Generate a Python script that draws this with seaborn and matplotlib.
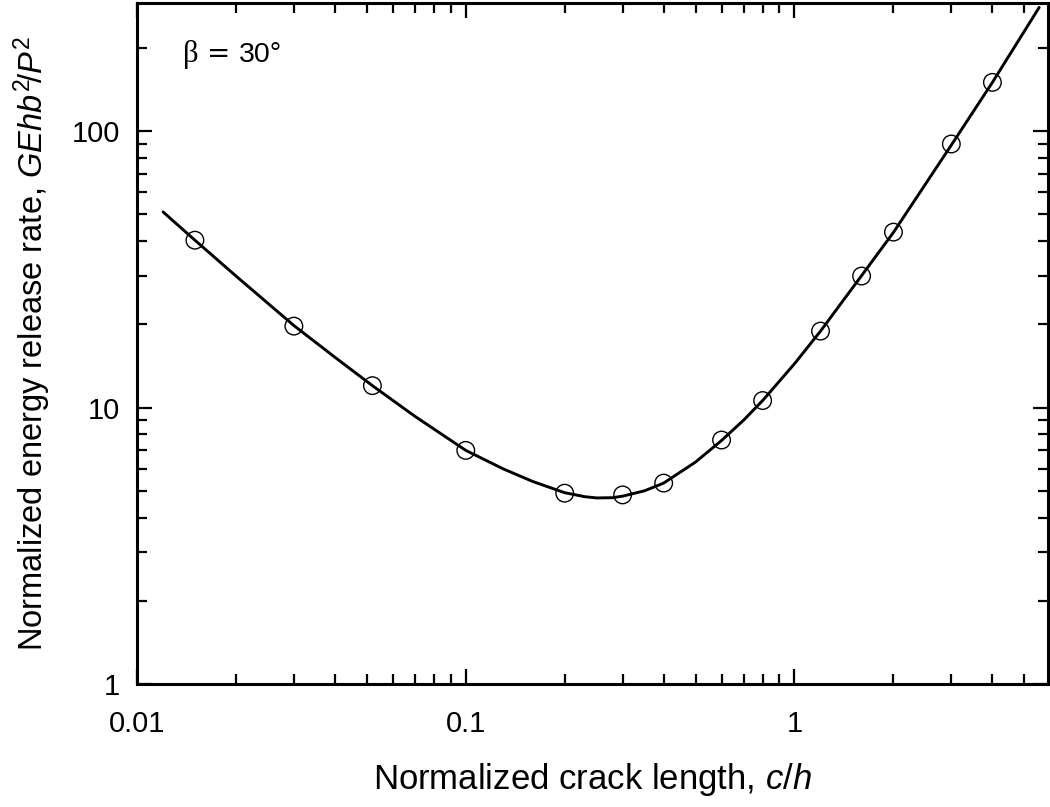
import matplotlib
matplotlib.use("Agg")
import matplotlib.pyplot as plt
import matplotlib.ticker as mticker
import numpy as np
import pandas as pd
import seaborn as sns

# points (open circles)
pts_x = [0.015, 0.03, 0.052, 0.1, 0.2, 0.3, 0.4, 0.6, 0.8, 1.2, 1.6, 2.0, 3.0, 4.0]
pts_y = [40.3, 19.7, 12.0, 7.0, 4.9, 4.83, 5.33, 7.63, 10.6, 18.9, 29.9, 43.1, 89.8, 150]

# solid curve
curve_x = [0.012, 0.015, 0.02, 0.03, 0.04, 0.052, 0.07, 0.1, 0.13, 0.16, 0.2,
           0.23, 0.25, 0.28, 0.3, 0.35, 0.4, 0.5, 0.6, 0.7, 0.8, 1.0, 1.2, 1.6,
           2.0, 3.0, 4.0, 5.55]
curve_y = [51, 40.3, 29.9, 19.8, 15.2, 12.0, 9.3, 7.0, 6.0, 5.4, 4.92,
           4.76, 4.71, 4.72, 4.78, 5.0, 5.33, 6.35, 7.6, 9.0, 10.6, 14.4, 18.9,
           30, 43, 89, 150, 280]

x_ticks = [0.01, 0.1, 1]
x_tick_labels = ["0.01", "0.1", "1"]
y_ticks = [1, 10, 100]
y_tick_labels = ["1", "10", "100"]

pts = pd.DataFrame({"c_h": pts_x, "G": pts_y})
curve = pd.DataFrame({"c_h": curve_x, "G": curve_y})

sns.set_style("ticks")
plt.rcParams["font.family"] = ["Liberation Sans", "DejaVu Sans"]
plt.rcParams["mathtext.fontset"] = "custom"
plt.rcParams["mathtext.rm"] = "Liberation Sans"
plt.rcParams["mathtext.it"] = "Liberation Sans:italic"
plt.rcParams["text.color"] = "black"
plt.rcParams["axes.labelcolor"] = "black"
plt.rcParams["xtick.color"] = "black"
plt.rcParams["ytick.color"] = "black"

fig = plt.figure(figsize=(10.5, 8.07), dpi=100)
ax = fig.add_axes([0.1305, 0.1524, 0.8675, 0.8436])

sns.lineplot(data=curve, x="c_h", y="G", color="black", linewidth=2.1, ax=ax,
             sort=False)
sns.scatterplot(data=pts, x="c_h", y="G", marker="o", s=160,
                facecolors="none", edgecolor="black", linewidth=1.0, ax=ax,
                zorder=3)

ax.set_xscale("log")
ax.set_yscale("log")
ax.set_xlim(0.01, 5.9)
ax.set_ylim(1, 290)

ax.xaxis.set_major_locator(mticker.FixedLocator(x_ticks))
ax.xaxis.set_major_formatter(mticker.FixedFormatter(x_tick_labels))
ax.yaxis.set_major_locator(mticker.FixedLocator(y_ticks))
ax.yaxis.set_major_formatter(mticker.FixedFormatter(y_tick_labels))
ax.xaxis.set_minor_locator(mticker.LogLocator(base=10, subs=np.arange(2, 10)))
ax.yaxis.set_minor_locator(mticker.LogLocator(base=10, subs=np.arange(2, 10)))
ax.xaxis.set_minor_formatter(mticker.NullFormatter())
ax.yaxis.set_minor_formatter(mticker.NullFormatter())

ax.tick_params(which="both", direction="in", top=True, right=True,
               width=1.6, color="black")
ax.tick_params(which="major", length=11)
ax.tick_params(which="minor", length=7.5)
ax.tick_params(axis="x", which="major", labelsize=21, pad=19)
ax.tick_params(axis="y", which="major", labelsize=21, pad=12)

for sp in ax.spines.values():
    sp.set_linewidth(2.2)
    sp.set_color("black")

ax.set_xlabel(r"Normalized crack length, $\mathit{c/h}$", fontsize=25,
              labelpad=16)
ax.set_ylabel(r"Normalized energy release rate, $\mathit{GEhb}^{2}\!/\mathit{P}^{2}$",
              fontsize=23.5, labelpad=14)

# beta annotation
ax.text(0.0505, 0.913, "β", transform=ax.transAxes, fontsize=22,
        family="Liberation Serif", ha="left", va="baseline")
ax.text(0.077, 0.913, "=", transform=ax.transAxes, fontsize=20,
        family="DejaVu Sans", ha="left", va="baseline")
ax.text(0.112, 0.913, "30°", transform=ax.transAxes, fontsize=20.5,
        ha="left", va="baseline")

fig.savefig("out.png", dpi=100)
